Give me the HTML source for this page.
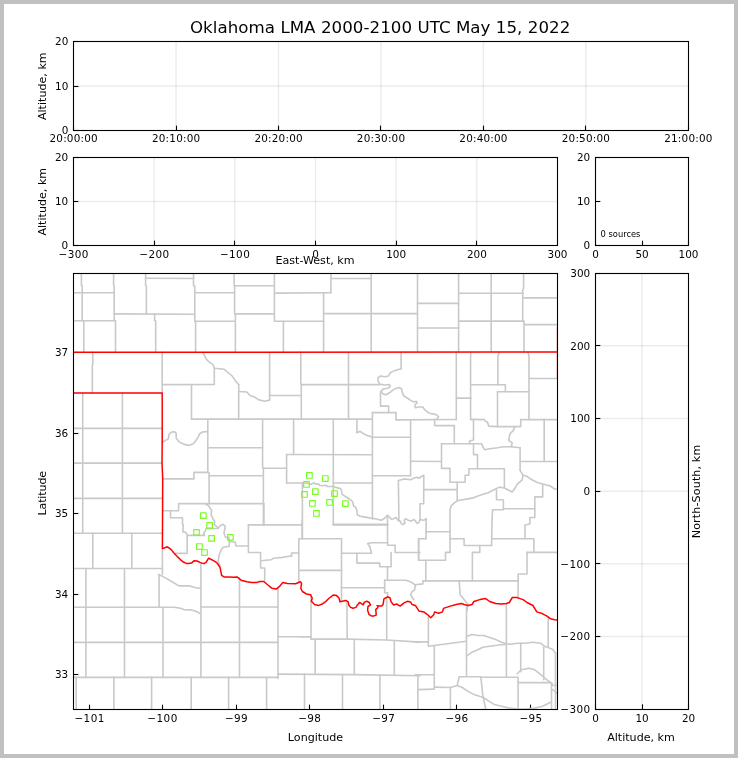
<!DOCTYPE html>
<html><head><meta charset="utf-8"><title>Oklahoma LMA</title>
<style>
html,body{margin:0;padding:0;background:#fff;}
svg{display:block;}
text{font-family:"DejaVu Sans", "Liberation Sans", sans-serif;fill:#000;}
.t{opacity:0.999;}
</style></head>
<body>
<svg width="738" height="758" viewBox="0 0 738 758">
<rect x="0" y="0" width="738" height="758" fill="#c0c0c0"/>
<rect x="4" y="4" width="730" height="750" fill="#fff"/>
<line x1="176.05" y1="41.50" x2="176.05" y2="130.50" stroke="#000" stroke-opacity="0.075" stroke-width="1.5"/>
<line x1="278.50" y1="41.50" x2="278.50" y2="130.50" stroke="#000" stroke-opacity="0.075" stroke-width="1.5"/>
<line x1="380.95" y1="41.50" x2="380.95" y2="130.50" stroke="#000" stroke-opacity="0.075" stroke-width="1.5"/>
<line x1="483.40" y1="41.50" x2="483.40" y2="130.50" stroke="#000" stroke-opacity="0.075" stroke-width="1.5"/>
<line x1="585.85" y1="41.50" x2="585.85" y2="130.50" stroke="#000" stroke-opacity="0.075" stroke-width="1.5"/>
<line x1="73.60" y1="86.00" x2="688.30" y2="86.00" stroke="#000" stroke-opacity="0.075" stroke-width="1.5"/>
<line x1="73.50" y1="130.50" x2="73.50" y2="125.64" stroke="#000" stroke-width="1.1"/>
<line x1="176.50" y1="130.50" x2="176.50" y2="125.64" stroke="#000" stroke-width="1.1"/>
<line x1="278.50" y1="130.50" x2="278.50" y2="125.64" stroke="#000" stroke-width="1.1"/>
<line x1="380.50" y1="130.50" x2="380.50" y2="125.64" stroke="#000" stroke-width="1.1"/>
<line x1="483.50" y1="130.50" x2="483.50" y2="125.64" stroke="#000" stroke-width="1.1"/>
<line x1="585.50" y1="130.50" x2="585.50" y2="125.64" stroke="#000" stroke-width="1.1"/>
<line x1="688.50" y1="130.50" x2="688.50" y2="125.64" stroke="#000" stroke-width="1.1"/>
<line x1="73.60" y1="130.50" x2="78.46" y2="130.50" stroke="#000" stroke-width="1.1"/>
<line x1="73.60" y1="86.50" x2="78.46" y2="86.50" stroke="#000" stroke-width="1.1"/>
<line x1="73.60" y1="41.50" x2="78.46" y2="41.50" stroke="#000" stroke-width="1.1"/>
<rect x="73.50" y="41.50" width="615.00" height="89.00" fill="none" stroke="#000" stroke-width="1.1"/>
<line x1="154.17" y1="157.50" x2="154.17" y2="245.50" stroke="#000" stroke-opacity="0.075" stroke-width="1.5"/>
<line x1="234.83" y1="157.50" x2="234.83" y2="245.50" stroke="#000" stroke-opacity="0.075" stroke-width="1.5"/>
<line x1="315.50" y1="157.50" x2="315.50" y2="245.50" stroke="#000" stroke-opacity="0.075" stroke-width="1.5"/>
<line x1="396.17" y1="157.50" x2="396.17" y2="245.50" stroke="#000" stroke-opacity="0.075" stroke-width="1.5"/>
<line x1="476.83" y1="157.50" x2="476.83" y2="245.50" stroke="#000" stroke-opacity="0.075" stroke-width="1.5"/>
<line x1="73.50" y1="201.50" x2="557.50" y2="201.50" stroke="#000" stroke-opacity="0.075" stroke-width="1.5"/>
<line x1="73.50" y1="245.50" x2="73.50" y2="240.64" stroke="#000" stroke-width="1.1"/>
<line x1="154.50" y1="245.50" x2="154.50" y2="240.64" stroke="#000" stroke-width="1.1"/>
<line x1="234.50" y1="245.50" x2="234.50" y2="240.64" stroke="#000" stroke-width="1.1"/>
<line x1="315.50" y1="245.50" x2="315.50" y2="240.64" stroke="#000" stroke-width="1.1"/>
<line x1="396.50" y1="245.50" x2="396.50" y2="240.64" stroke="#000" stroke-width="1.1"/>
<line x1="476.50" y1="245.50" x2="476.50" y2="240.64" stroke="#000" stroke-width="1.1"/>
<line x1="557.50" y1="245.50" x2="557.50" y2="240.64" stroke="#000" stroke-width="1.1"/>
<line x1="73.50" y1="245.50" x2="78.36" y2="245.50" stroke="#000" stroke-width="1.1"/>
<line x1="73.50" y1="201.50" x2="78.36" y2="201.50" stroke="#000" stroke-width="1.1"/>
<line x1="73.50" y1="157.50" x2="78.36" y2="157.50" stroke="#000" stroke-width="1.1"/>
<rect x="73.50" y="157.50" width="484.00" height="88.00" fill="none" stroke="#000" stroke-width="1.1"/>
<line x1="595.50" y1="245.50" x2="595.50" y2="240.64" stroke="#000" stroke-width="1.1"/>
<line x1="642.50" y1="245.50" x2="642.50" y2="240.64" stroke="#000" stroke-width="1.1"/>
<line x1="688.50" y1="245.50" x2="688.50" y2="240.64" stroke="#000" stroke-width="1.1"/>
<line x1="595.50" y1="245.50" x2="600.36" y2="245.50" stroke="#000" stroke-width="1.1"/>
<line x1="595.50" y1="201.50" x2="600.36" y2="201.50" stroke="#000" stroke-width="1.1"/>
<line x1="595.50" y1="157.50" x2="600.36" y2="157.50" stroke="#000" stroke-width="1.1"/>
<rect x="595.50" y="157.50" width="93.00" height="88.00" fill="none" stroke="#000" stroke-width="1.1"/>
<line x1="89.50" y1="709.50" x2="89.50" y2="704.64" stroke="#000" stroke-width="1.1"/>
<line x1="162.50" y1="709.50" x2="162.50" y2="704.64" stroke="#000" stroke-width="1.1"/>
<line x1="236.50" y1="709.50" x2="236.50" y2="704.64" stroke="#000" stroke-width="1.1"/>
<line x1="309.50" y1="709.50" x2="309.50" y2="704.64" stroke="#000" stroke-width="1.1"/>
<line x1="383.50" y1="709.50" x2="383.50" y2="704.64" stroke="#000" stroke-width="1.1"/>
<line x1="456.50" y1="709.50" x2="456.50" y2="704.64" stroke="#000" stroke-width="1.1"/>
<line x1="530.50" y1="709.50" x2="530.50" y2="704.64" stroke="#000" stroke-width="1.1"/>
<line x1="73.50" y1="352.50" x2="78.36" y2="352.50" stroke="#000" stroke-width="1.1"/>
<line x1="73.50" y1="433.50" x2="78.36" y2="433.50" stroke="#000" stroke-width="1.1"/>
<line x1="73.50" y1="513.50" x2="78.36" y2="513.50" stroke="#000" stroke-width="1.1"/>
<line x1="73.50" y1="594.50" x2="78.36" y2="594.50" stroke="#000" stroke-width="1.1"/>
<line x1="73.50" y1="674.50" x2="78.36" y2="674.50" stroke="#000" stroke-width="1.1"/>
<svg x="73.5" y="273.5" width="484.0" height="436.0" viewBox="73.5 273.5 484.0 436.0" overflow="hidden">
<g fill="none" stroke="#c9c9c9" stroke-width="1.6" stroke-linejoin="round" stroke-linecap="round">
<polyline points="81.4,273.0 81.4,285.4 82.2,286.0 82.2,320.7"/>
<polyline points="73.0,292.8 114.2,292.8"/>
<polyline points="113.6,273.0 113.6,285.4 114.2,286.0 114.2,320.7"/>
<polyline points="73.0,320.7 115.5,320.7"/>
<polyline points="83.8,320.7 83.8,352.0"/>
<polyline points="115.5,320.7 115.5,352.0"/>
<polyline points="145.6,273.0 145.6,285.4 146.4,286.0 146.4,313.9"/>
<polyline points="145.6,278.3 193.5,278.5"/>
<polyline points="114.2,313.9 194.8,314.2"/>
<polyline points="154.6,313.9 154.6,320.4 155.7,321.0 155.7,352.0"/>
<polyline points="193.5,273.0 193.5,285.4 194.8,286.0 194.8,321.2"/>
<polyline points="194.8,292.8 234.6,292.8"/>
<polyline points="194.8,321.2 234.6,321.2"/>
<polyline points="195.6,321.2 195.6,352.0"/>
<polyline points="234.1,273.0 234.1,285.4 234.6,286.0 234.6,313.9 235.4,314.5 235.4,352.0"/>
<polyline points="234.6,285.8 274.4,285.8"/>
<polyline points="235.4,313.9 274.4,313.9"/>
<polyline points="274.4,273.0 274.4,321.2"/>
<polyline points="274.9,293.1 330.9,292.8"/>
<polyline points="274.9,321.2 323.6,321.2"/>
<polyline points="283.4,321.2 283.4,352.0"/>
<polyline points="330.9,273.0 330.9,292.8"/>
<polyline points="331.7,278.5 371.2,278.5"/>
<polyline points="323.6,292.8 323.6,352.0"/>
<polyline points="323.6,313.6 417.4,313.6"/>
<polyline points="371.2,273.0 371.2,352.0"/>
<polyline points="417.5,273.0 417.5,352.0"/>
<polyline points="417.5,303.4 458.6,303.4"/>
<polyline points="417.5,328.0 458.6,328.0"/>
<polyline points="458.6,273.0 458.6,352.0"/>
<polyline points="458.6,293.2 523.0,293.2"/>
<polyline points="458.6,321.1 524.0,321.1"/>
<polyline points="491.2,273.0 491.2,352.0"/>
<polyline points="523.6,273.0 523.6,288.0 522.7,290.0 522.7,321.1 524.0,322.0 524.0,352.0"/>
<polyline points="523.6,297.9 557.0,297.9"/>
<polyline points="524.0,324.6 557.0,324.6"/>
<polyline points="92.8,352.0 92.8,364.6 92.3,365.0 92.3,393.0"/>
<polyline points="162.2,352.0 162.2,393.0"/>
<polyline points="162.2,384.6 214.3,384.5"/>
<polyline points="82.7,393.0 82.7,533.3"/>
<polyline points="122.4,393.0 122.4,533.3"/>
<polyline points="73.0,428.4 162.0,428.4"/>
<polyline points="73.0,463.1 162.0,463.1"/>
<polyline points="73.0,498.4 162.0,498.4"/>
<polyline points="203.2,352.9 206.1,358.9 209.4,362.2 213.0,364.6 214.6,368.2 224.0,369.2 227.3,372.0 232.2,376.0 235.4,380.9 238.7,384.5"/>
<polyline points="214.3,368.2 214.3,384.5"/>
<polyline points="191.5,384.5 191.5,419.1"/>
<polyline points="238.7,384.5 238.7,419.1"/>
<polyline points="191.5,419.1 372.4,419.1"/>
<polyline points="238.7,391.5 246.8,392.0 250.0,395.5 254.9,397.2 258.2,399.6 264.7,401.2 269.6,400.1"/>
<polyline points="269.6,352.9 269.6,400.1"/>
<polyline points="269.6,395.5 301.3,395.5"/>
<polyline points="300.8,352.0 300.8,384.5 301.3,385.0 301.3,419.1"/>
<polyline points="301.3,384.6 379.7,384.6"/>
<polyline points="348.5,352.6 348.5,419.1"/>
<polyline points="401.1,352.6 401.1,368.7"/>
<polyline points="401.1,368.7 397.6,369.8 393.5,371.1 390.2,372.8 388.6,376.0 384.6,376.8 380.5,376.0 378.0,377.6 378.0,380.9 379.7,384.1 384.6,385.0 389.4,384.5 390.2,386.6 387.8,388.2 382.9,389.0 381.3,391.5 382.9,393.9 386.2,394.7 390.2,392.3 394.3,389.0 399.2,387.4 401.6,389.0 402.4,393.1 404.1,396.3 407.3,398.0 410.6,400.4 413.8,402.0 416.3,401.2 417.1,402.8 414.6,405.3 415.4,407.7 418.9,407.0 422.9,407.0 424.8,409.9 428.8,412.9 432.7,413.9 436.6,414.8 438.6,416.8 436.6,419.2"/>
<polyline points="380.5,391.5 380.5,406.1 388.6,406.1 388.6,412.6"/>
<polyline points="372.4,412.6 395.9,412.6"/>
<polyline points="372.4,412.6 372.4,518.7"/>
<polyline points="395.9,412.6 395.9,419.9 456.3,419.5"/>
<polyline points="410.6,419.9 410.6,475.7"/>
<polyline points="333.3,419.1 333.3,525.0"/>
<polyline points="356.9,419.9 356.9,432.9 360.2,431.3 363.4,433.7 366.7,435.4 369.9,436.2 372.4,437.4"/>
<polyline points="372.4,437.2 410.6,437.2"/>
<polyline points="456.3,352.0 456.3,419.7"/>
<polyline points="456.3,398.1 471.0,398.1"/>
<polyline points="471.0,352.0 470.6,356.0 470.6,419.7"/>
<polyline points="470.6,384.8 505.4,384.8 505.4,391.7"/>
<polyline points="499.5,352.0 497.9,356.0 497.9,384.8"/>
<polyline points="497.5,391.7 529.0,391.7"/>
<polyline points="497.5,391.7 497.5,425.6"/>
<polyline points="528.0,352.0 529.0,356.0 529.0,419.7"/>
<polyline points="530.0,378.5 557.0,378.5"/>
<polyline points="520.7,419.6 557.0,419.6"/>
<polyline points="544.2,419.2 544.2,461.5"/>
<polyline points="434.6,419.2 434.6,425.6 454.3,425.6 454.3,443.8"/>
<polyline points="473.5,419.7 473.5,439.9 469.6,440.9 469.6,443.8"/>
<polyline points="470.6,419.4 484.3,419.6 485.4,421.2 487.6,422.3 488.7,426.1 497.3,426.6 520.7,426.6 520.7,419.6"/>
<polyline points="514.7,426.6 513.1,430.9 510.4,433.1 509.3,436.4 508.9,440.0 509.3,441.0 512.2,442.9 511.3,446.8"/>
<polyline points="162.6,442.0 168.3,438.9 168.9,434.6 171.3,432.2 174.4,431.6 176.2,433.4 176.2,438.3 179.3,442.0 184.1,444.4 189.0,445.4 193.3,443.8 195.7,440.7 198.2,437.1 199.4,434.0 202.4,432.0 207.5,431.6"/>
<polyline points="207.8,419.1 207.8,472.4 209.1,473.0 209.1,503.6"/>
<polyline points="208.6,447.7 262.6,447.7"/>
<polyline points="209.1,475.7 263.0,475.7"/>
<polyline points="262.6,419.1 262.6,467.5 263.4,468.0 263.4,524.9"/>
<polyline points="162.7,478.9 193.9,478.9 193.9,472.4 208.6,472.4"/>
<polyline points="163.2,510.7 178.6,510.7 178.6,503.6 263.4,503.6"/>
<polyline points="170.5,510.7 170.5,517.7 182.5,517.7 182.5,524.6 183.3,525.0 182.9,531.9 185.5,532.3 187.2,534.5 187.2,553.4 175.6,553.4"/>
<polyline points="293.6,419.1 293.6,454.5"/>
<polyline points="286.6,454.5 372.4,454.8"/>
<polyline points="286.6,454.5 286.6,483.0"/>
<polyline points="263.4,468.3 286.6,468.3"/>
<polyline points="286.6,483.0 306.0,483.0 309.6,483.7 311.3,484.5 313.7,482.5 315.3,484.1 318.6,483.7 319.4,485.3 322.6,485.7 325.9,485.3 327.5,486.5 330.8,486.5 333.2,486.3 335.7,487.4 340.5,488.6 341.7,491.0 342.2,494.3 347.0,497.5 351.9,500.8 353.1,503.2 353.5,506.1 355.5,507.0 356.9,510.6 357.2,514.7 360.2,516.3 365.0,517.1 369.9,517.9 372.0,518.6 374.9,518.5 378.1,519.5 381.4,520.3 384.6,518.3 387.5,515.4 389.5,517.1 391.1,519.1 393.6,518.7 396.0,517.5 398.0,520.3 400.1,521.1 401.7,524.0 403.3,524.4 405.0,522.8 404.1,520.3 405.8,518.7 408.2,520.3 410.7,521.1 413.9,519.5 415.5,521.1 417.2,523.6 418.8,522.4 420.4,519.5 423.7,520.3 426.1,518.7"/>
<polyline points="302.4,483.0 302.4,538.7"/>
<polyline points="333.3,483.0 372.4,483.0"/>
<polyline points="372.4,475.7 410.6,475.7"/>
<polyline points="410.6,461.3 441.5,461.5"/>
<polyline points="398.9,521.1 398.4,480.5 404.1,478.9 410.6,479.7 413.8,478.1 417.0,477.2 418.9,478.2 421.9,476.3 423.8,475.3"/>
<polyline points="423.8,476.3 423.7,503.7 420.0,503.7 420.0,519.5"/>
<polyline points="426.1,518.7 426.1,538.7"/>
<polyline points="333.3,524.4 387.8,524.4"/>
<polyline points="387.5,515.4 387.5,545.2"/>
<polyline points="441.5,443.8 481.8,443.8 482.8,446.8 484.7,449.7 489.7,448.8 497.5,447.8 503.4,446.8 511.3,446.8 520.1,447.8"/>
<polyline points="441.5,443.8 441.5,468.4 450.0,468.4 450.0,482.2 465.1,482.2 465.1,475.3 468.9,475.3 468.9,468.8 504.4,468.8 504.4,488.0"/>
<polyline points="473.5,443.8 473.5,454.6 477.5,454.6 477.5,468.8"/>
<polyline points="520.1,447.8 520.1,470.4"/>
<polyline points="520.1,461.5 557.0,461.5"/>
<polyline points="520.1,470.4 523.0,475.3 527.0,476.3 530.9,479.2 534.8,481.2 538.8,483.1 542.7,484.1 546.6,485.1 550.6,486.1 554.5,489.0 557.0,489.0"/>
<polyline points="523.0,475.3 522.1,480.2 517.2,484.1 515.2,488.0 512.2,492.0 508.3,490.0 504.4,488.0 499.5,487.1 495.5,489.0 491.6,491.0 487.7,493.0 483.8,493.9 477.9,495.9 473.0,497.9 468.0,498.9 462.2,499.8 457.2,500.8 454.3,502.8 451.3,505.7 450.0,509.7 450.0,552.4"/>
<polyline points="457.2,482.2 457.2,500.8"/>
<polyline points="423.8,489.6 457.2,489.6"/>
<polyline points="496.5,490.0 496.5,499.8 503.4,499.8 503.4,509.7 492.6,509.7 492.0,520.0 491.6,545.5"/>
<polyline points="503.4,508.7 534.8,508.7"/>
<polyline points="542.7,485.1 542.7,496.9 534.8,496.9 534.8,517.5 529.9,517.5 529.9,524.0 525.0,525.0 525.0,538.7"/>
<polyline points="73.0,533.3 162.0,533.3"/>
<polyline points="92.8,533.3 92.8,568.5"/>
<polyline points="131.8,533.3 131.8,568.5"/>
<polyline points="73.0,568.5 162.4,568.5"/>
<polyline points="162.4,548.5 162.4,574.5"/>
<polyline points="85.9,568.5 85.9,676.5"/>
<polyline points="124.5,568.5 124.5,676.5"/>
<polyline points="158.6,574.5 163.5,576.9 170.8,581.0 178.9,585.9 189.9,585.9 194.8,587.5 199.6,588.3 200.9,588.5"/>
<polyline points="159.1,574.5 159.1,607.5"/>
<polyline points="73.0,607.2 174.0,607.2 180.6,608.3 183.8,609.6 191.5,609.9 196.4,611.5 200.9,613.9"/>
<polyline points="163.0,607.2 163.0,677.5"/>
<polyline points="73.0,642.4 278.0,642.4"/>
<polyline points="73.0,677.4 278.0,677.4"/>
<polyline points="76.2,677.4 76.2,709.0"/>
<polyline points="113.9,677.0 113.9,709.0"/>
<polyline points="151.6,677.0 151.6,709.0"/>
<polyline points="191.2,677.4 191.2,709.0"/>
<polyline points="228.6,677.4 228.6,709.0"/>
<polyline points="266.6,677.4 266.6,709.0"/>
<polyline points="200.9,563.0 200.9,677.4"/>
<polyline points="239.5,578.0 239.5,677.4"/>
<polyline points="278.0,588.0 278.0,678.2"/>
<polyline points="200.9,607.0 278.0,607.0"/>
<polyline points="278.0,636.7 311.1,636.7"/>
<polyline points="278.0,674.1 353.7,674.6 420.0,675.7"/>
<polyline points="304.5,674.1 304.5,709.0"/>
<polyline points="205.3,503.7 208.6,505.7 211.8,510.6 211.0,514.6 213.0,518.7 214.7,522.0 214.3,524.4 218.3,528.0 220.8,525.2 223.2,524.4 225.2,526.0 224.8,529.3 224.0,532.5 224.8,535.8 225.7,537.4 228.9,537.4 229.3,541.5 235.4,542.3 235.8,546.0 248.4,546.0"/>
<polyline points="187.2,535.4 204.5,535.4 203.7,533.3 205.3,530.9 206.1,528.5 218.3,528.5"/>
<polyline points="229.3,541.5 229.3,546.3 223.2,547.2 220.8,550.4 219.1,555.3 218.3,560.0 218.6,563.0 220.0,565.5"/>
<polyline points="248.4,524.9 302.1,524.9"/>
<polyline points="248.4,524.9 248.4,552.5 260.6,552.5 260.6,568.0 264.7,568.0 264.7,580.2"/>
<polyline points="263.9,503.6 263.9,524.9"/>
<polyline points="302.1,520.0 302.1,538.7"/>
<polyline points="261.4,560.7 271.2,559.8 273.6,558.2 282.6,557.4 291.5,555.8 291.6,556.2 291.6,553.0 298.8,553.0"/>
<polyline points="298.8,538.7 298.8,581.8"/>
<polyline points="298.8,538.7 341.5,538.7"/>
<polyline points="298.8,570.4 341.5,570.4"/>
<polyline points="333.3,524.9 387.8,524.9"/>
<polyline points="341.5,538.7 341.5,599.7"/>
<polyline points="341.5,553.3 371.5,553.3 369.9,546.8 367.5,543.6 371.5,542.8 387.8,542.8"/>
<polyline points="387.8,545.2 395.1,545.2 395.1,552.5 420.0,552.5"/>
<polyline points="356.9,553.3 356.9,563.1 379.7,563.1 379.7,566.8 391.1,566.8 391.1,552.5"/>
<polyline points="387.5,566.8 387.5,580.2"/>
<polyline points="341.2,587.8 384.6,587.8"/>
<polyline points="384.6,580.2 405.7,580.2 410.6,581.8 415.4,585.0 414.6,589.9 412.2,591.5 410.6,594.8 413.8,599.7"/>
<polyline points="384.6,580.2 384.7,592.7 387.6,592.7 387.6,596.4"/>
<polyline points="418.7,538.7 418.7,559.8"/>
<polyline points="311.0,595.0 311.0,639.1"/>
<polyline points="346.9,602.0 347.2,639.1"/>
<polyline points="386.7,598.8 386.7,640.0"/>
<polyline points="311.1,639.1 347.2,639.1 386.7,640.0 420.0,642.1"/>
<polyline points="300.0,636.7 311.1,636.7"/>
<polyline points="315.2,640.0 315.2,674.1"/>
<polyline points="354.3,640.8 354.3,674.6"/>
<polyline points="394.3,641.6 394.3,675.0"/>
<polyline points="342.5,674.6 342.5,709.0"/>
<polyline points="379.9,675.0 379.9,709.0"/>
<polyline points="417.9,675.7 417.9,709.0"/>
<polyline points="417.9,689.6 434.3,689.1"/>
<polyline points="425.8,531.8 450.0,531.8"/>
<polyline points="418.5,538.7 425.8,538.7"/>
<polyline points="418.5,538.7 418.5,560.3 445.5,560.3 445.5,552.4 450.0,552.4"/>
<polyline points="450.0,538.7 464.1,538.7 464.1,545.5 491.6,545.5"/>
<polyline points="491.6,538.7 533.9,538.7 533.9,552.4"/>
<polyline points="527.0,552.4 557.0,552.4"/>
<polyline points="527.0,552.4 527.0,574.0 518.1,574.0 518.1,598.6"/>
<polyline points="479.8,545.5 479.8,552.4 472.4,552.4 472.4,580.9"/>
<polyline points="415.0,584.8 422.9,583.9 422.9,580.9 518.1,580.9"/>
<polyline points="425.8,560.3 425.8,580.9"/>
<polyline points="459.2,580.9 459.2,581.9 460.2,594.7 464.1,599.6 468.0,604.5 467.1,610.0"/>
<polyline points="506.4,604.0 506.4,676.7"/>
<polyline points="415.0,641.9 428.4,641.9"/>
<polyline points="428.4,616.8 428.4,646.3 466.5,641.3"/>
<polyline points="466.5,607.0 466.5,675.7"/>
<polyline points="434.3,646.3 434.3,688.5"/>
<polyline points="415.0,674.7 434.3,674.7"/>
<polyline points="434.3,687.1 450.4,687.5 450.4,709.0"/>
<polyline points="450.4,687.5 457.2,685.5 459.2,676.7 480.8,676.7 482.8,695.4 485.7,709.0"/>
<polyline points="466.5,636.4 472.0,634.5 477.9,635.5 483.8,635.5 489.7,637.4 495.5,639.4 501.4,642.3 506.4,643.7 511.3,644.3 517.2,643.3 525.0,643.3 532.9,642.3 540.7,643.3 544.7,646.3 552.5,649.2 555.5,653.1"/>
<polyline points="466.5,656.1 472.0,652.2 477.9,649.8 482.8,647.2 489.7,646.3 497.5,645.3 506.4,644.3"/>
<polyline points="480.8,677.3 517.2,677.3"/>
<polyline points="520.7,643.3 520.7,671.8"/>
<polyline points="543.7,647.2 543.7,679.7"/>
<polyline points="548.2,617.8 548.2,647.2"/>
<polyline points="555.5,653.0 555.5,709.0"/>
<polyline points="517.2,673.8 521.1,669.8 528.9,668.3 534.8,669.8 540.7,674.7 546.6,679.7 552.5,683.6"/>
<polyline points="518.1,682.6 550.6,682.6 552.5,685.5 557.0,685.2"/>
<polyline points="552.5,689.5 557.0,693.4"/>
<polyline points="551.5,685.5 551.5,709.0"/>
<polyline points="518.1,677.3 518.1,709.0"/>
<polyline points="457.2,685.5 462.2,687.5 468.0,691.4 473.9,694.4 482.8,697.3 487.7,700.3 493.6,704.2 501.4,706.2 509.3,708.1 517.2,709.0 525.0,709.0 534.8,708.1 542.7,706.2 550.6,702.2"/>
</g>
<g fill="none" stroke="#ff0000" stroke-width="1.5" stroke-linejoin="round" stroke-linecap="round">
<polyline points="73.0,352.3 557.0,352.1"/>
<polyline points="73.0,393.0 162.2,393.0 162.2,440.0 162.0,463.0 162.7,478.0 162.4,548.5 164.3,548.0 166.7,546.8 169.2,548.0 171.6,550.1 174.1,553.3 177.3,556.6 180.6,559.8 183.8,562.3 187.1,563.6 188.3,563.6 191.5,563.1 193.9,560.7 197.2,561.0 200.4,562.6 203.7,563.6 206.1,562.3 208.6,558.2 210.2,559.0 213.5,560.7 216.7,562.6 220.0,567.2 221.6,575.3 224.0,576.9 228.9,576.9 233.8,577.2 237.0,576.9 241.1,580.2 246.8,581.8 251.7,582.6 256.5,582.6 259.8,581.5 263.9,581.5 267.9,585.0 272.0,588.3 276.1,589.1 279.3,586.7 282.6,582.6 287.4,583.4 295.6,583.7 300.4,581.8 301.6,583.4 300.8,588.3 302.4,591.5 306.5,594.0 310.6,594.8 312.2,598.0 311.4,601.3 314.6,604.6 318.7,605.4 322.8,603.7 326.0,601.3 329.3,598.0 333.3,595.1 336.6,595.6 339.0,598.0 340.0,601.7 343.3,600.9 345.7,600.4 348.1,601.7 348.9,605.3 350.6,607.4 353.0,608.2 355.9,607.4 357.5,604.9 359.5,602.5 361.5,603.7 363.2,604.9 364.4,602.1 366.8,601.3 369.3,602.5 370.5,604.9 368.0,606.5 367.6,610.2 368.9,614.3 371.3,615.9 374.1,615.9 376.2,615.1 375.8,609.4 377.4,608.2 378.2,606.5 377.0,605.7 378.6,606.1 381.5,606.1 383.1,604.5 383.9,598.8 385.5,598.0 388.0,596.8 390.0,598.0 391.2,602.1 393.7,604.9 396.9,604.1 400.0,606.1 404.1,602.9 407.3,601.3 410.6,602.1 412.2,604.6 415.4,605.4 418.9,610.9 423.8,611.9 427.8,614.8 430.7,617.8 433.7,614.8 434.6,611.9 438.6,613.3 442.5,611.9 443.5,608.4 449.4,606.4 456.3,604.5 461.2,603.5 464.1,604.5 468.0,605.5 472.0,604.5 473.9,601.5 479.8,599.6 485.7,598.6 489.7,601.5 495.5,603.5 501.4,604.1 506.4,603.5 509.3,602.5 512.2,597.6 517.2,597.6 523.1,599.6 527.0,602.5 532.9,605.5 536.8,611.9 542.7,613.8 546.6,615.8 550.6,618.8 554.5,619.7 558.0,620.0"/>
<polyline points="557.6,327.0 557.6,378.5"/>
</g>
<g fill="none" stroke="#78fc22" stroke-width="1.15" stroke-linejoin="round">
<rect x="200.6" y="512.7" width="5.6" height="5.6"/>
<rect x="206.8" y="522.6" width="5.6" height="5.6"/>
<rect x="193.7" y="529.6" width="5.6" height="5.6"/>
<rect x="208.8" y="535.6" width="5.6" height="5.6"/>
<rect x="227.6" y="534.6" width="5.6" height="5.6"/>
<rect x="196.6" y="543.7" width="5.6" height="5.6"/>
<rect x="201.7" y="549.7" width="5.6" height="5.6"/>
<rect x="306.6" y="472.6" width="5.6" height="5.6"/>
<rect x="322.5" y="475.7" width="5.6" height="5.6"/>
<rect x="303.7" y="481.6" width="5.6" height="5.6"/>
<rect x="312.6" y="488.7" width="5.6" height="5.6"/>
<rect x="301.7" y="491.6" width="5.6" height="5.6"/>
<rect x="331.7" y="490.7" width="5.6" height="5.6"/>
<rect x="309.6" y="500.6" width="5.6" height="5.6"/>
<rect x="326.7" y="499.6" width="5.6" height="5.6"/>
<rect x="342.6" y="500.7" width="5.6" height="5.6"/>
<rect x="313.6" y="510.6" width="5.6" height="5.6"/>
</g>
</svg>
<rect x="73.50" y="273.50" width="484.00" height="436.00" fill="none" stroke="#000" stroke-width="1.1"/>
<line x1="642.00" y1="273.20" x2="642.00" y2="709.20" stroke="#000" stroke-opacity="0.075" stroke-width="1.5"/>
<line x1="595.50" y1="636.53" x2="688.50" y2="636.53" stroke="#000" stroke-opacity="0.075" stroke-width="1.5"/>
<line x1="595.50" y1="563.87" x2="688.50" y2="563.87" stroke="#000" stroke-opacity="0.075" stroke-width="1.5"/>
<line x1="595.50" y1="491.20" x2="688.50" y2="491.20" stroke="#000" stroke-opacity="0.075" stroke-width="1.5"/>
<line x1="595.50" y1="418.53" x2="688.50" y2="418.53" stroke="#000" stroke-opacity="0.075" stroke-width="1.5"/>
<line x1="595.50" y1="345.87" x2="688.50" y2="345.87" stroke="#000" stroke-opacity="0.075" stroke-width="1.5"/>
<line x1="595.50" y1="709.20" x2="595.50" y2="704.34" stroke="#000" stroke-width="1.1"/>
<line x1="642.50" y1="709.20" x2="642.50" y2="704.34" stroke="#000" stroke-width="1.1"/>
<line x1="688.50" y1="709.20" x2="688.50" y2="704.34" stroke="#000" stroke-width="1.1"/>
<line x1="595.50" y1="709.50" x2="600.36" y2="709.50" stroke="#000" stroke-width="1.1"/>
<line x1="595.50" y1="636.50" x2="600.36" y2="636.50" stroke="#000" stroke-width="1.1"/>
<line x1="595.50" y1="563.50" x2="600.36" y2="563.50" stroke="#000" stroke-width="1.1"/>
<line x1="595.50" y1="491.50" x2="600.36" y2="491.50" stroke="#000" stroke-width="1.1"/>
<line x1="595.50" y1="418.50" x2="600.36" y2="418.50" stroke="#000" stroke-width="1.1"/>
<line x1="595.50" y1="345.50" x2="600.36" y2="345.50" stroke="#000" stroke-width="1.1"/>
<line x1="595.50" y1="273.50" x2="600.36" y2="273.50" stroke="#000" stroke-width="1.1"/>
<rect x="595.50" y="273.50" width="93.00" height="436.00" fill="none" stroke="#000" stroke-width="1.1"/>
<g class="t">
<text x="73.60" y="141.80" font-size="10.42" text-anchor="middle" textLength="48.2" lengthAdjust="spacing">20:00:00</text>
<text x="176.05" y="141.80" font-size="10.42" text-anchor="middle" textLength="48.2" lengthAdjust="spacing">20:10:00</text>
<text x="278.50" y="141.80" font-size="10.42" text-anchor="middle" textLength="48.2" lengthAdjust="spacing">20:20:00</text>
<text x="380.95" y="141.80" font-size="10.42" text-anchor="middle" textLength="48.2" lengthAdjust="spacing">20:30:00</text>
<text x="483.40" y="141.80" font-size="10.42" text-anchor="middle" textLength="48.2" lengthAdjust="spacing">20:40:00</text>
<text x="585.85" y="141.80" font-size="10.42" text-anchor="middle" textLength="48.2" lengthAdjust="spacing">20:50:00</text>
<text x="688.30" y="141.80" font-size="10.42" text-anchor="middle" textLength="48.2" lengthAdjust="spacing">21:00:00</text>
<text x="68.30" y="134.30" font-size="10.42" text-anchor="end">0</text>
<text x="68.30" y="89.80" font-size="10.42" text-anchor="end">10</text>
<text x="68.30" y="45.30" font-size="10.42" text-anchor="end">20</text>
<text x="46.00" y="86.20" font-size="11.11" text-anchor="middle" transform="rotate(-90 46.0 86.2)">Altitude, km</text>
<text x="73.50" y="257.50" font-size="10.42" text-anchor="middle" textLength="29.9" lengthAdjust="spacing">−300</text>
<text x="154.17" y="257.50" font-size="10.42" text-anchor="middle" textLength="29.9" lengthAdjust="spacing">−200</text>
<text x="234.83" y="257.50" font-size="10.42" text-anchor="middle" textLength="29.9" lengthAdjust="spacing">−100</text>
<text x="315.50" y="257.50" font-size="10.42" text-anchor="middle">0</text>
<text x="396.17" y="257.50" font-size="10.42" text-anchor="middle">100</text>
<text x="476.83" y="257.50" font-size="10.42" text-anchor="middle">200</text>
<text x="557.50" y="257.50" font-size="10.42" text-anchor="middle">300</text>
<text x="68.20" y="249.30" font-size="10.42" text-anchor="end">0</text>
<text x="68.20" y="205.30" font-size="10.42" text-anchor="end">10</text>
<text x="68.20" y="161.30" font-size="10.42" text-anchor="end">20</text>
<text x="46.00" y="201.70" font-size="11.11" text-anchor="middle" transform="rotate(-90 46.0 201.7)">Altitude, km</text>
<text x="315.00" y="264.00" font-size="11.11" text-anchor="middle">East-West, km</text>
<text x="595.50" y="257.50" font-size="10.42" text-anchor="middle">0</text>
<text x="642.00" y="257.50" font-size="10.42" text-anchor="middle">50</text>
<text x="688.50" y="257.50" font-size="10.42" text-anchor="middle">100</text>
<text x="590.20" y="249.30" font-size="10.42" text-anchor="end">0</text>
<text x="590.20" y="205.30" font-size="10.42" text-anchor="end">10</text>
<text x="590.20" y="161.30" font-size="10.42" text-anchor="end">20</text>
<text x="600.50" y="237.30" font-size="8.33" text-anchor="start">0 sources</text>
<text x="89.40" y="722.00" font-size="10.42" text-anchor="middle" textLength="29.9" lengthAdjust="spacing">−101</text>
<text x="162.30" y="722.00" font-size="10.42" text-anchor="middle" textLength="29.9" lengthAdjust="spacing">−100</text>
<text x="236.30" y="722.00" font-size="10.42" text-anchor="middle" textLength="22.5" lengthAdjust="spacing">−99</text>
<text x="309.60" y="722.00" font-size="10.42" text-anchor="middle" textLength="22.5" lengthAdjust="spacing">−98</text>
<text x="383.50" y="722.00" font-size="10.42" text-anchor="middle" textLength="22.5" lengthAdjust="spacing">−97</text>
<text x="456.80" y="722.00" font-size="10.42" text-anchor="middle" textLength="22.5" lengthAdjust="spacing">−96</text>
<text x="530.80" y="722.00" font-size="10.42" text-anchor="middle" textLength="22.5" lengthAdjust="spacing">−95</text>
<text x="68.20" y="356.00" font-size="10.42" text-anchor="end">37</text>
<text x="68.20" y="437.10" font-size="10.42" text-anchor="end">36</text>
<text x="68.20" y="516.90" font-size="10.42" text-anchor="end">35</text>
<text x="68.20" y="598.20" font-size="10.42" text-anchor="end">34</text>
<text x="68.20" y="678.20" font-size="10.42" text-anchor="end">33</text>
<text x="315.50" y="740.90" font-size="11.11" text-anchor="middle">Longitude</text>
<text x="46.00" y="493.20" font-size="11.11" text-anchor="middle" transform="rotate(-90 46.0 493.2)" textLength="44.8" lengthAdjust="spacing">Latitude</text>
<text x="595.50" y="721.70" font-size="10.42" text-anchor="middle">0</text>
<text x="642.00" y="721.70" font-size="10.42" text-anchor="middle">10</text>
<text x="688.50" y="721.70" font-size="10.42" text-anchor="middle">20</text>
<text x="590.20" y="713.00" font-size="10.42" text-anchor="end" textLength="29.9" lengthAdjust="spacing">−300</text>
<text x="590.20" y="640.33" font-size="10.42" text-anchor="end" textLength="29.9" lengthAdjust="spacing">−200</text>
<text x="590.20" y="567.67" font-size="10.42" text-anchor="end" textLength="29.9" lengthAdjust="spacing">−100</text>
<text x="590.20" y="495.00" font-size="10.42" text-anchor="end">0</text>
<text x="590.20" y="422.33" font-size="10.42" text-anchor="end">100</text>
<text x="590.20" y="349.67" font-size="10.42" text-anchor="end">200</text>
<text x="590.20" y="277.00" font-size="10.42" text-anchor="end">300</text>
<text x="641.00" y="740.50" font-size="11.11" text-anchor="middle">Altitude, km</text>
<text x="699.90" y="491.50" font-size="11.11" text-anchor="middle" transform="rotate(-90 699.9 491.5)" textLength="93.5" lengthAdjust="spacing">North-South, km</text>
<text x="380.10" y="32.70" font-size="16.67" text-anchor="middle" textLength="380.4" lengthAdjust="spacing">Oklahoma LMA 2000-2100 UTC May 15, 2022</text>
</g>
</svg>
</body></html>
